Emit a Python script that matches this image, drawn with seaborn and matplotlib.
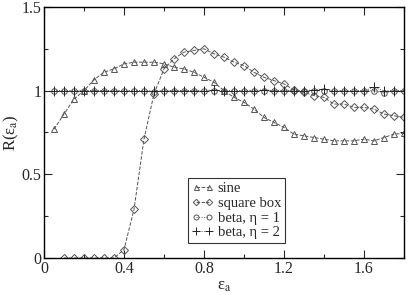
import numpy as np
import pandas as pd
import seaborn as sns
import matplotlib.pyplot as plt
from matplotlib.ticker import MultipleLocator

# data
x_sine = [0.05, 0.1, 0.15, 0.2, 0.25, 0.3, 0.35, 0.4, 0.45, 0.5, 0.55, 0.6,
          0.65, 0.7, 0.75, 0.8, 0.85, 0.9, 0.95, 1.0, 1.05, 1.1, 1.15, 1.2,
          1.25, 1.3, 1.35, 1.4, 1.45, 1.5, 1.55, 1.6, 1.65, 1.7, 1.75, 1.8]
r_sine = [0.77, 0.86, 0.95, 1.0, 1.065, 1.11, 1.13, 1.16, 1.17, 1.17, 1.17, 1.16,
          1.14, 1.13, 1.11, 1.08, 1.05, 1.0, 0.96, 0.93, 0.89, 0.84, 0.81, 0.78,
          0.74, 0.73, 0.72, 0.71, 0.70, 0.70, 0.70, 0.71, 0.70, 0.72, 0.74, 0.745]

x_box = [0.1, 0.15, 0.2, 0.25, 0.3, 0.35, 0.4, 0.45, 0.5, 0.55, 0.6,
         0.65, 0.7, 0.75, 0.8, 0.85, 0.9, 0.95, 1.0, 1.05, 1.1, 1.15, 1.2,
         1.25, 1.3, 1.35, 1.4, 1.45, 1.5, 1.55, 1.6, 1.65, 1.7, 1.75, 1.8]
r_box = [0.0, 0.0, 0.0, 0.0, 0.0, 0.0, 0.05, 0.29, 0.71, 0.98, 1.13,
         1.19, 1.23, 1.24, 1.25, 1.22, 1.2, 1.17, 1.15, 1.11, 1.08, 1.06, 1.04,
         1.005, 0.99, 0.97, 0.96, 0.92, 0.92, 0.9, 0.9, 0.89, 0.86, 0.85, 0.84]

x_beta = x_sine
r_beta1 = [1.0, 1.0, 1.0, 1.0, 1.0, 1.0, 1.0, 1.0, 1.0, 1.0, 0.99, 1.0,
           1.0, 1.0, 1.0, 0.995, 1.0, 1.0, 1.0, 1.0, 1.0, 1.0, 1.0, 1.0,
           1.0, 1.0, 1.0, 1.0, 1.0, 1.0, 0.995, 1.0, 1.0, 0.985, 1.0, 1.0]
r_beta2 = [1.0, 1.0, 1.0, 1.0, 1.0, 1.0, 1.0, 1.0, 1.0, 1.0, 1.0, 1.0,
           1.0, 1.0, 1.0, 1.0, 1.005, 1.0, 1.0, 1.0, 1.0, 1.005, 1.0, 1.0,
           1.0, 1.0, 1.005, 1.01, 1.0, 1.0, 1.0, 1.0, 1.02, 1.0, 1.0, 1.0]

sns.set_style("ticks")
plt.rcParams['font.family'] = ['Liberation Serif', 'DejaVu Serif']
plt.rcParams['mathtext.fontset'] = 'stix'

fig = plt.figure(figsize=(4.09, 2.95), dpi=100)
ax = fig.add_axes([0.1076, 0.1254, 0.88, 0.851])

gray = '#555555'
common = dict(color=gray, markersize=4, markeredgewidth=0.7, linewidth=0.7, ax=ax)
sns.lineplot(x=x_sine, y=r_sine, marker='^', markerfacecolor='none', markeredgecolor=gray,
             linestyle='--', dashes=(3, 2), label='sine', **common)
sns.lineplot(x=x_box, y=r_box, marker='D', markerfacecolor='none', markeredgecolor=gray,
             linestyle='--', dashes=(3, 2), label='square box', **dict(common, markersize=3.6))
sns.lineplot(x=x_beta, y=r_beta1, marker='o', markerfacecolor='none', markeredgecolor=gray,
             linestyle=':', label='beta, η = 1', **common)
sns.lineplot(x=x_beta, y=r_beta2, marker='+', markeredgecolor='#222222',
             linestyle=':', label='beta, η = 2', **dict(common, markersize=6.5))

ax.set_xlim(0, 1.8)
ax.set_ylim(0, 1.5)
ax.xaxis.set_major_locator(MultipleLocator(0.4))
ax.xaxis.set_minor_locator(MultipleLocator(0.2))
ax.yaxis.set_major_locator(MultipleLocator(0.5))
ax.yaxis.set_minor_locator(MultipleLocator(0.25))
ax.xaxis.set_major_formatter(plt.FuncFormatter(lambda v, p: '%g' % round(v, 2)))
ax.yaxis.set_major_formatter(plt.FuncFormatter(lambda v, p: '%g' % round(v, 2)))
ax.tick_params(which='both', direction='in', top=True, right=True, labelsize=11.5, width=0.8)
ax.tick_params(which='major', length=6, pad=2)
ax.tick_params(which='minor', length=3)
for s in ax.spines.values():
    s.set_linewidth(1.0)
    s.set_color('black')

ax.set_xlabel('ε$_{\\rm a}$', fontsize=12, labelpad=1)
ax.set_ylabel('R(ε$_{\\rm a}$)', fontsize=12, labelpad=0)

leg = ax.legend(loc='lower left', bbox_to_anchor=(0.40, 0.06), borderaxespad=0,
                fontsize=10.5, frameon=True, fancybox=False, handlelength=1.5,
                handletextpad=0.3, borderpad=0.25, labelspacing=0.1, numpoints=2,
                markerscale=0.9)
leg.get_frame().set_edgecolor('black')
leg.get_frame().set_linewidth(0.8)

fig.savefig('out.png', dpi=100)
